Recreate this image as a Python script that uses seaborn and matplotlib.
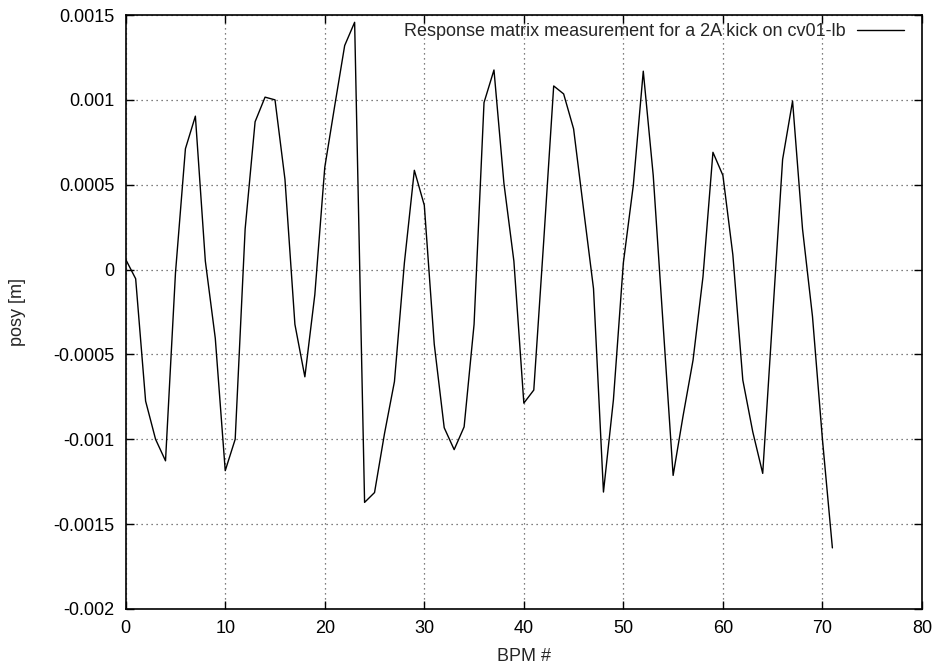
import matplotlib
matplotlib.use("Agg")
import matplotlib.pyplot as plt
import seaborn as sns
import numpy as np
import pandas as pd

bpm = list(range(72))
posy = [
    0.00006, -0.000054, -0.000775, -0.001, -0.001127, -0.00002, 0.000712, 0.000904,
    0.00005, -0.000405, -0.001185, -0.001, 0.000239, 0.000871, 0.001016, 0.001,
    0.000532, -0.000323, -0.000632, -0.000148, 0.000602, 0.000965, 0.00132, 0.001457,
    -0.001372, -0.001314, -0.000967, -0.00066, 0.00004, 0.000585, 0.000379, -0.00044,
    -0.000932, -0.001061, -0.000927, -0.000323, 0.000984, 0.001176, 0.000508, 0.00005,
    -0.000787, -0.00071, 0.00017, 0.001082, 0.001035, 0.000829, 0.000356, -0.000112,
    -0.001311, -0.000768, 0.00004, 0.000497, 0.001169, 0.000555, -0.00033, -0.001213,
    -0.000862, -0.000534, -0.000042, 0.000691, 0.000555, 0.000087, -0.000651, -0.000956,
    -0.001201, -0.000276, 0.000649, 0.000993, 0.000239, -0.000276, -0.001, -0.00164,
]
x_ticks = [0, 10, 20, 30, 40, 50, 60, 70, 80]
y_ticks = [-0.002, -0.0015, -0.001, -0.0005, 0, 0.0005, 0.001, 0.0015]
y_tick_labels = ["-0.002", "-0.0015", "-0.001", "-0.0005", "0", "0.0005", "0.001", "0.0015"]
series_label = "Response matrix measurement for a 2A kick on cv01-lb"

sns.set_style("ticks")
plt.rcParams['font.family'] = ['Liberation Sans', 'DejaVu Sans']

df = pd.DataFrame({"BPM #": bpm, "posy [m]": posy})

fig = plt.figure(figsize=(9.36, 6.67), dpi=100)
ax = fig.add_axes([0.1343, 0.087, 0.985 - 0.1343, 0.9775 - 0.087])

sns.lineplot(data=df, x="BPM #", y="posy [m]", ax=ax, color="black", lw=1.0,
             label=series_label)

FS = 13
ax.set_xlim(0, 80)
ax.set_ylim(-0.002, 0.0015)
ax.set_xticks(x_ticks)
ax.set_xticklabels([str(t) for t in x_ticks])
ax.set_yticks(y_ticks)
ax.set_yticklabels(y_tick_labels)
ax.tick_params(direction="in", top=True, right=True, length=6, width=1,
               labelsize=FS, pad=8, colors="black")
ax.grid(True, linestyle=(0, (1, 3)), color="#555555", lw=0.9)
for s in ax.spines.values():
    s.set_visible(True)
    s.set_color("black")
    s.set_linewidth(1.2)

ax.set_xlabel("BPM #", fontsize=FS, labelpad=8)
ax.set_ylabel("posy [m]", fontsize=FS, labelpad=20)

leg = ax.legend(loc="upper right", bbox_to_anchor=(0.986, 0.998), frameon=False,
                markerfirst=False, fontsize=FS, handlelength=2.6,
                borderaxespad=0.0, handletextpad=0.6)

fig.savefig("out.png", dpi=100)
